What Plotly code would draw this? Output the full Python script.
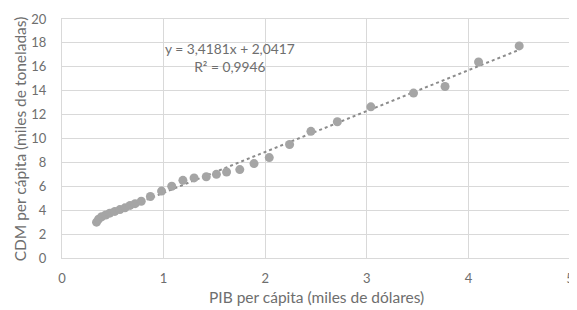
import plotly.graph_objects as go

pib = [0.34, 0.36, 0.39, 0.43, 0.47, 0.52, 0.57, 0.62, 0.67, 0.72, 0.78, 0.87,
       0.98, 1.08, 1.19, 1.30, 1.42, 1.52, 1.62, 1.75, 1.89, 2.04, 2.24, 2.45,
       2.71, 3.04, 3.46, 3.77, 4.10, 4.50]
cdm = [3.0, 3.25, 3.45, 3.6, 3.75, 3.9, 4.05, 4.2, 4.4, 4.55, 4.75, 5.15,
       5.6, 6.0, 6.5, 6.7, 6.8, 7.0, 7.2, 7.4, 7.9, 8.4, 9.5, 10.6,
       11.4, 12.65, 13.8, 14.35, 16.4, 17.75]
slope = 3.4181
intercept = 2.0417
r2 = 0.9946

x_title = "PIB per cápita (miles de dólares)"
y_title = "CDM per cápita (miles de toneladas)"
eq_text = "y = 3,4181x + 2,0417<br>R² = 0,9946"

FONT = "Lato"
TXT = "#6e6e6e"
GRID = "#d9d9d9"
MARK = "#a5a5a5"

xmin, xmax = min(pib), max(pib)
trend_x = [xmin, xmax]
trend_y = [slope * v + intercept for v in trend_x]

fig = go.Figure()
fig.add_trace(go.Scatter(x=trend_x, y=trend_y, mode="lines",
                         line=dict(color="#8c8c8c", width=2, dash="dot"),
                         hoverinfo="skip", showlegend=False))
fig.add_trace(go.Scatter(x=pib, y=cdm, mode="markers",
                         marker=dict(color=MARK, size=9, line=dict(width=0)),
                         showlegend=False))

# page body has an 8px default margin; compensate so the plot lands where the reference has it
fig.update_layout(
    width=569, height=302,
    margin=dict(l=54, r=3, t=6, b=52),
    paper_bgcolor="white", plot_bgcolor="white",
    font=dict(family=FONT, color=TXT, size=12),
    xaxis=dict(range=[0, 5], dtick=1, showgrid=True, gridcolor=GRID, gridwidth=1,
               zeroline=False, showline=True, linecolor=GRID, mirror=True,
               ticks="", ticklabelstandoff=8, ticklabeloverflow="allow",
               tickfont=dict(size=13, color=TXT)),
    yaxis=dict(range=[0, 20], dtick=2, showgrid=True, gridcolor=GRID, gridwidth=1,
               zeroline=False, showline=True, linecolor=GRID, mirror=True,
               ticks="", ticklabelstandoff=12, ticklabeloverflow="allow",
               tickfont=dict(size=13, color=TXT)),
    annotations=[
        dict(text=x_title, xref="paper", yref="paper", x=0.5, y=-0.165,
             xanchor="center", yanchor="middle", showarrow=False,
             font=dict(size=15.5, color=TXT)),
        dict(text=y_title, xref="paper", yref="paper", x=-0.083, y=0.5,
             xanchor="center", yanchor="middle", textangle=-90, showarrow=False,
             font=dict(size=15.5, color=TXT)),
        dict(text=eq_text, xref="x", yref="y", x=1.65, y=16.75,
             xanchor="center", yanchor="middle", showarrow=False, align="center",
             font=dict(size=13.75, color=TXT)),
    ],
)

fig.write_html("out.html")
